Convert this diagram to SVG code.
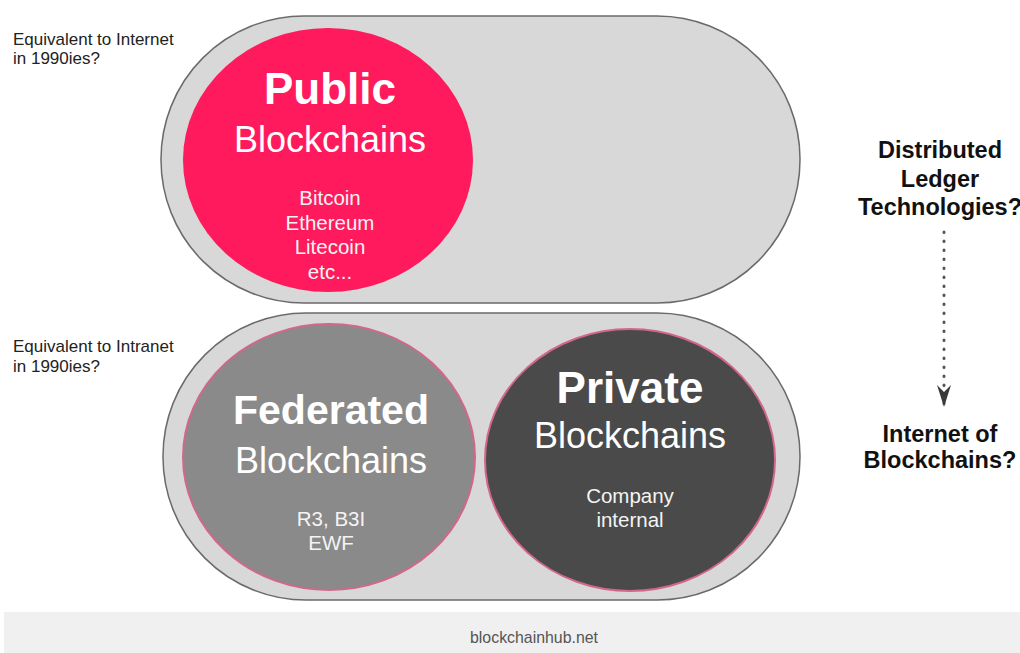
<svg xmlns="http://www.w3.org/2000/svg" width="1020" height="653" viewBox="0 0 1020 653">
<defs>
<style>
text{font-family:"Liberation Sans",Arial,sans-serif;}
.pill{fill:#d8d8d8;stroke:#6a6a6a;stroke-width:1.5;}
.side{font-size:17px;fill:#222;}
.t{font-size:44px;font-weight:bold;fill:#fff;text-anchor:middle;}
.s{font-size:36px;fill:#fff;text-anchor:middle;}
.e{font-size:20.5px;fill:#f4f4f4;text-anchor:middle;}
.r{font-size:23.5px;font-weight:bold;fill:#111;text-anchor:middle;}
</style>
<marker id="ah" viewBox="0 0 22 14" refX="22" refY="7" markerWidth="22" markerHeight="14" markerUnits="userSpaceOnUse" orient="auto">
<path d="M0,0 L22,7 L0,14 L7,7 Z" fill="#3a3a3a"/>
</marker>
</defs>
<rect width="1020" height="653" fill="#fff"/>
<g id="public-group">
<rect class="pill" x="161" y="16" width="639" height="287" rx="143" ry="143"/>
</g>
<g id="private-group">
<rect class="pill" x="163" y="313" width="637" height="287" rx="143" ry="143"/>
</g>
<g id="label-internet">
<text class="side" x="13" y="45">Equivalent to Internet</text>
<text class="side" x="13" y="64">in 1990ies?</text>
</g>
<g id="label-intranet">
<text class="side" x="13" y="352">Equivalent to Intranet</text>
<text class="side" x="13" y="372">in 1990ies?</text>
</g>
<g id="public">
<ellipse cx="328" cy="160" rx="145" ry="132" fill="#fe1a5c"/>
<text class="t" x="330" y="104">Public</text>
<text class="s" x="330" y="152">Blockchains</text>
<text class="e" x="330" y="205">Bitcoin</text>
<text class="e" x="330" y="230">Ethereum</text>
<text class="e" x="330" y="254">Litecoin</text>
<text class="e" x="330" y="279">etc...</text>
</g>
<g id="federated">
<ellipse cx="329" cy="457" rx="146" ry="133" fill="#8a8a8a" stroke="#d2678a" stroke-width="2"/>
<text class="t" x="331" y="424" style="font-size:41px">Federated</text>
<text class="s" x="331" y="473">Blockchains</text>
<text class="e" x="331" y="526">R3, B3I</text>
<text class="e" x="331" y="550">EWF</text>
</g>
<g id="private">
<ellipse cx="630" cy="460" rx="145" ry="131" fill="#4a4a4a" stroke="#d2678a" stroke-width="2"/>
<text class="t" x="630" y="403">Private</text>
<text class="s" x="630" y="448">Blockchains</text>
<text class="e" x="630" y="503">Company</text>
<text class="e" x="630" y="527">internal</text>
</g>
<g id="dlt">
<text class="r" x="940" y="158">Distributed</text>
<text class="r" x="940" y="187">Ledger</text>
<text class="r" x="940" y="215">Technologies?</text>
</g>
<g id="iob">
<text class="r" x="940" y="442">Internet of</text>
<text class="r" x="940" y="468">Blockchains?</text>
</g>
<g id="connectors">
<line x1="944" y1="232" x2="944" y2="407" stroke="#555" stroke-width="3" stroke-dasharray="0.5 8.5" stroke-linecap="round" marker-end="url(#ah)"/>
</g>
<g id="footer">
<rect x="4" y="612" width="1016" height="41" fill="#f0f0f0"/>
<text x="534" y="643" font-size="17" fill="#555" text-anchor="middle" textLength="128" lengthAdjust="spacingAndGlyphs">blockchainhub.net</text>
</g>
</svg>
